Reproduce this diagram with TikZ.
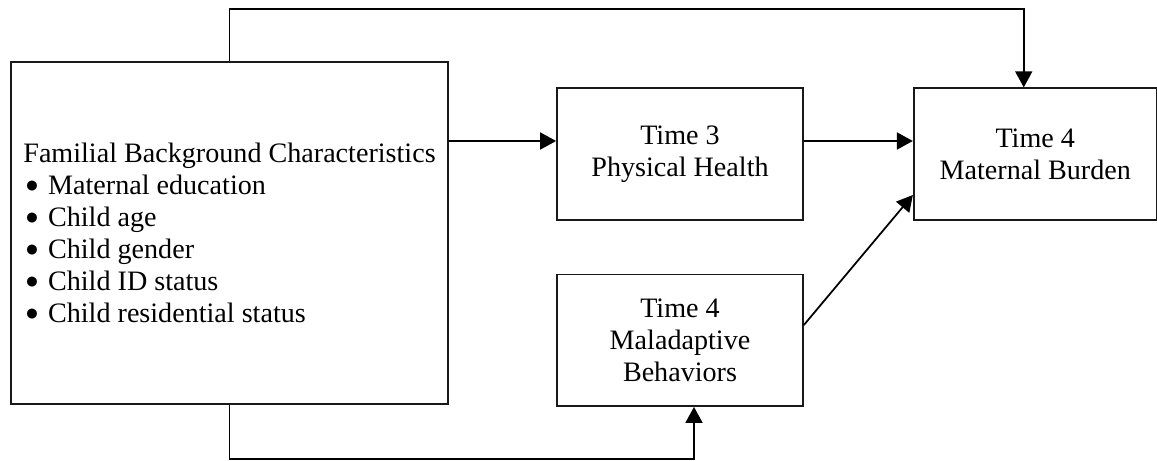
\documentclass[tikz,border=0pt]{standalone}
\usepackage{fontspec}
\setmainfont{Liberation Serif}
\usepackage{tikz}
\usetikzlibrary{arrows.meta, positioning}

\newcommand{\itembul}[1]{\makebox[0.88em][l]{\hspace{0.08em}\raisebox{0.06em}{\scalebox{0.85}{$\bullet$}}}#1}

\begin{document}
\begin{tikzpicture}[
  box/.style={rectangle, draw=black!90, line width=1pt, inner sep=0pt, align=center, font=\fontsize{16}{18.2}\selectfont},
  smallbox/.style={box, minimum width=4.92cm, minimum height=2.63cm},
  arr/.style={-{Triangle[length=0.32cm, width=0.34cm]}, line width=1pt}
]
  \useasboundingbox (0,0) rectangle (23.14,9.2);

  \node[box, align=left, minimum width=8.74cm, minimum height=6.84cm] (fam) at (4.59,4.54)
    {Familial Background Characteristics\\
     \itembul{Maternal education}\\
     \itembul{Child age}\\
     \itembul{Child gender}\\
     \itembul{Child ID status}\\
     \itembul{Child residential status}};
  \node[smallbox] (phys) at (13.6,6.12) {Time 3\\Physical Health};
  \node[smallbox, minimum width=4.86cm, right=2.18cm of phys] (mat) {Time 4\\Maternal Burden};
  \node[smallbox, below=1.06cm of phys] (mal) {Time 4\\Maladaptive\\Behaviors};

  % direct paths
  \draw[arr] (fam.east |- 0,6.38) -- (phys.west |- 0,6.38);
  \draw[arr] (phys.east |- 0,6.38) -- (mat.west |- 0,6.38);
  \draw[arr] (mal.east |- 0,2.70) -- (mat.west |- 0,5.30);

  % background paths round the boxes
  \draw[arr] (fam.north) -- ++(0,1.04) -| ([xshift=-0.23cm]mat.north);
  \draw[arr] (fam.south) -- ++(0,-1.08) -| ([xshift=0.28cm]mal.south);
\end{tikzpicture}
\end{document}
